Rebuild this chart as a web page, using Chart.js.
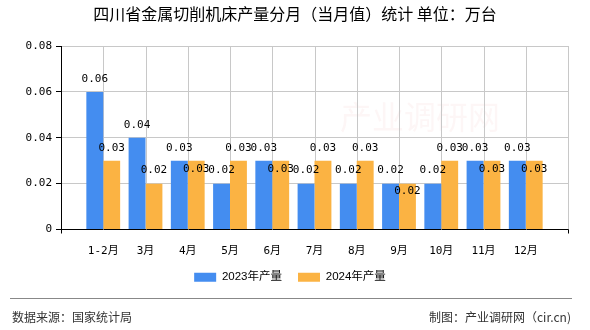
<!DOCTYPE html>
<html>
<head>
<meta charset="utf-8">
<script src="https://cdn.jsdelivr.net/npm/chart.js@4.4.1/dist/chart.umd.min.js"></script>
<style>
  html, body { margin: 0; padding: 0; background: #fff; }
  canvas { display: block; }
</style>
</head>
<body>
<canvas id="bar-chart" width="590" height="330"></canvas>
<script>
// data
const months = ['1-2月', '3月', '4月', '5月', '6月', '7月', '8月', '9月', '10月', '11月', '12月'];
const output2023 = [0.06, 0.04, 0.03, 0.02, 0.03, 0.02, 0.02, 0.02, 0.02, 0.03, 0.03];
const output2024 = [0.03, 0.02, 0.03, 0.03, 0.03, 0.03, 0.03, 0.02, 0.03, 0.03, 0.03];
const yTicks = [0, 0.02, 0.04, 0.06, 0.08];
const seriesNames = ['2023年产量', '2024年产量'];
const titleText = '四川省金属切削机床产量分月（当月值）统计 单位：万台';
const sourceText = '数据来源：国家统计局';
const makerText = '制图：产业调研网（cir.cn)';

const numFont = '"DejaVu Sans Mono", "Noto Sans CJK SC", monospace';
const cjkFont = '"Noto Sans CJK SC", sans-serif';
const gridColor = '#c8c8c8';
const lastX = months.length + 1;

// values above bars; second label moves inside its bar when it would hit the first one
const barLabels = {
    id: 'barLabels',
    afterDatasetsDraw(chart) {
        const ctx = chart.ctx;
        const m0 = chart.getDatasetMeta(0);
        const m1 = chart.getDatasetMeta(1);
        ctx.save();
        ctx.font = '11px ' + numFont;
        ctx.fillStyle = '#000';
        ctx.textAlign = 'center';
        ctx.textBaseline = 'middle';
        for (let i = 0; i < months.length; i++) {
            let b0 = m0.data[i], b1 = m1.data[i];
            let y0 = b0.y - 13;
            let y1 = b1.y - 13;
            if (Math.abs(y0 - y1) < 14) y1 = b1.y + 8;
            ctx.fillText(output2023[i].toFixed(2), b0.x, y0);
            ctx.fillText(output2024[i].toFixed(2), b1.x, y1);
        }
        ctx.restore();
    }
};

// title, watermark, vertical grid and footer
const extras = {
    id: 'extras',
    beforeDatasetsDraw(chart) {
        const ctx = chart.ctx;
        const xs = chart.scales.x;
        const area = chart.chartArea;
        ctx.save();
        ctx.font = '32px ' + cjkFont;
        ctx.fillStyle = 'rgba(235,140,140,0.08)';
        ctx.textAlign = 'left';
        ctx.textBaseline = 'middle';
        ctx.fillText('产业调研网', 340, 117);
        // category grid lines (through each month and at the right edge)
        ctx.strokeStyle = gridColor;
        ctx.lineWidth = 1;
        ctx.beginPath();
        for (let v = 1; v <= lastX; v++) {
            const px = Math.round(xs.getPixelForValue(v)) + 0.5;
            ctx.moveTo(px, area.top);
            ctx.lineTo(px, area.bottom);
        }
        ctx.stroke();
        ctx.strokeStyle = '#000';
        ctx.beginPath();
        for (const v of [0, lastX]) {
            const px = Math.round(xs.getPixelForValue(v)) + 0.5;
            ctx.moveTo(px, area.bottom);
            ctx.lineTo(px, area.bottom + 4);
        }
        ctx.stroke();
        ctx.restore();
    },
    afterDraw(chart) {
        const ctx = chart.ctx;
        ctx.save();
        ctx.font = '16px ' + cjkFont;
        ctx.fillStyle = '#000';
        ctx.textAlign = 'center';
        ctx.textBaseline = 'middle';
        ctx.fillText(titleText, 295, 14);
        ctx.strokeStyle = '#888';
        ctx.lineWidth = 1;
        ctx.beginPath();
        ctx.moveTo(10, 298.5);
        ctx.lineTo(572, 298.5);
        ctx.stroke();
        ctx.font = '12px ' + cjkFont;
        ctx.fillStyle = '#333';
        ctx.textAlign = 'left';
        ctx.fillText(sourceText, 12, 317);
        ctx.textAlign = 'right';
        ctx.fillText(makerText, 571, 317);
        ctx.restore();
    }
};

const ctx = document.getElementById('bar-chart');
const myChart = new Chart(ctx, {
    type: 'bar',
    data: {
        datasets: [
            {
                label: seriesNames[0],
                data: output2023.map((v, i) => ({x: i + 1, y: v})),
                backgroundColor: '#448df0',
                categoryPercentage: 0.8,
                barPercentage: 1
            },
            {
                label: seriesNames[1],
                data: output2024.map((v, i) => ({x: i + 1, y: v})),
                backgroundColor: '#fbb343',
                categoryPercentage: 0.8,
                barPercentage: 1
            }
        ]
    },
    options: {
        responsive: false,
        animation: false,
        devicePixelRatio: 1,
        layout: { padding: { left: 12, right: 22, top: 46, bottom: 37 } },
        plugins: {
            title: { display: false },
            legend: {
                position: 'bottom',
                labels: {
                    boxWidth: 22,
                    boxHeight: 9,
                    padding: 16,
                    color: '#000',
                    font: { family: '"Liberation Sans", "Noto Sans CJK SC", sans-serif', size: 11.5 }
                }
            },
            tooltip: { enabled: false }
        },
        scales: {
            x: {
                type: 'linear',
                offset: false,
                min: 0,
                max: lastX,
                afterFit: s => { s.height = 26; },
                ticks: {
                    stepSize: 1,
                    autoSkip: false,
                    maxRotation: 0,
                    padding: 7,
                    color: '#000',
                    font: { family: numFont, size: 11 },
                    callback: v => months[v - 1] || ''
                },
                grid: { display: false },
                border: { color: '#000', width: 1 }
            },
            y: {
                min: yTicks[0],
                max: yTicks[yTicks.length - 1],
                afterFit: s => { s.width = 49; },
                afterBuildTicks: s => { s.ticks = yTicks.map(v => ({value: v})); },
                ticks: {
                    padding: 4,
                    color: '#000',
                    font: { family: numFont, size: 11 },
                    callback: v => v === 0 ? '0' : v.toFixed(2)
                },
                grid: { color: gridColor, tickLength: 5, tickColor: '#000' },
                border: { color: '#000', width: 1 }
            }
        }
    },
    plugins: [barLabels, extras]
});
</script>
</body>
</html>
